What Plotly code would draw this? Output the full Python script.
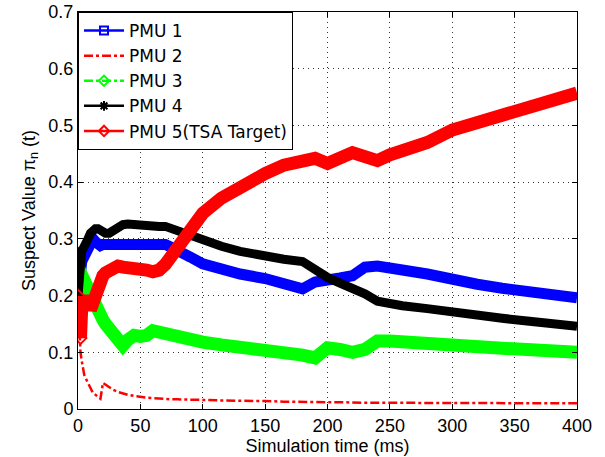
import plotly.graph_objects as go

# time axis (ms)
t = [0, 1, 2, 3, 4, 5, 6, 8, 10, 12, 14, 16, 18, 20, 22, 25, 28, 32, 36, 40,
     45, 50, 55, 60, 65, 70, 75, 80, 90, 100, 115, 130, 150, 165, 180, 190,
     200, 210, 220, 230, 240, 250, 260, 280, 300, 320, 340, 360, 380, 400]

pmu1 = [0.20, 0.25, 0.255, 0.26, 0.265, 0.27, 0.275, 0.29, 0.30, 0.30, 0.295, 0.29, 0.288, 0.29, 0.29, 0.288,
        0.288, 0.29, 0.29, 0.29, 0.29, 0.291, 0.29, 0.29, 0.292, 0.29, 0.285, 0.278, 0.268, 0.256,
        0.246, 0.238, 0.23, 0.222, 0.212, 0.224, 0.23, 0.231, 0.235, 0.25, 0.252, 0.25, 0.245,
        0.238, 0.228, 0.22, 0.213, 0.206, 0.2, 0.196]

pmu2 = [0.20, 0.13, 0.10, 0.085, 0.07, 0.06, 0.055, 0.045, 0.035, 0.028, 0.025, 0.022, 0.018, 0.046,
        0.043, 0.038, 0.034, 0.030, 0.027, 0.025, 0.023, 0.021, 0.020, 0.019, 0.018, 0.018, 0.017,
        0.017, 0.016, 0.016, 0.015, 0.015, 0.014, 0.013, 0.012, 0.012, 0.012, 0.012, 0.011, 0.011,
        0.011, 0.011, 0.011, 0.011, 0.011, 0.010, 0.010, 0.010, 0.010, 0.010]

pmu3 = [0.25, 0.245, 0.24, 0.23, 0.225, 0.22, 0.215, 0.205, 0.20, 0.19, 0.18, 0.17, 0.163, 0.157, 0.15,
        0.142, 0.132, 0.12, 0.112, 0.122, 0.13, 0.128, 0.13, 0.138, 0.135, 0.132, 0.13, 0.127, 0.123,
        0.118, 0.113, 0.11, 0.105, 0.10, 0.095, 0.09, 0.108, 0.105, 0.10, 0.105, 0.12, 0.12, 0.118,
        0.114, 0.11, 0.108, 0.107, 0.105, 0.103, 0.10]

pmu4 = [0.20, 0.26, 0.275, 0.28, 0.282, 0.285, 0.29, 0.30, 0.31, 0.318, 0.318, 0.318, 0.315, 0.312, 0.31,
        0.31, 0.315, 0.32, 0.325, 0.326, 0.325, 0.324, 0.322, 0.32, 0.322, 0.322, 0.318, 0.312, 0.305,
        0.298, 0.287, 0.278, 0.268, 0.264, 0.26, 0.245, 0.232, 0.222, 0.213, 0.203, 0.19, 0.185, 0.182,
        0.177, 0.17, 0.165, 0.16, 0.155, 0.15, 0.146]

pmu5 = [0.20, 0.13, 0.125, 0.18, 0.20, 0.19, 0.175, 0.20, 0.175, 0.19, 0.205, 0.215, 0.225, 0.235, 0.24,
        0.245, 0.25, 0.252, 0.25, 0.25, 0.245, 0.25, 0.245, 0.242, 0.245, 0.255, 0.27, 0.29, 0.32,
        0.345, 0.372, 0.392, 0.415, 0.43, 0.44, 0.442, 0.433, 0.445, 0.452, 0.445, 0.438, 0.448, 0.455,
        0.47, 0.492, 0.505, 0.52, 0.535, 0.548, 0.557]

names = ["PMU 1", "PMU 2", "PMU 3", "PMU 4", "PMU 5(TSA Target)"]
colors = ["#0000ff", "#ff0000", "#00ff00", "#000000", "#ff0000"]
series = [pmu1, pmu2, pmu3, pmu4, pmu5]
widths = [11, 2.5, 13, 9, 13]
dashes = ["solid", "dashdot", "solid", "solid", "solid"]
leg_dash = ["solid", "dashdot", "dashdot", "solid", "solid"]
leg_sym = ["square-open", None, "diamond-open", "asterisk-open", "diamond-open"]

fig = go.Figure()
for name, c, y, w, d in zip(names, colors, series, widths, dashes):
    fig.add_trace(go.Scatter(x=t, y=y, mode="lines", showlegend=False,
                             line=dict(color=c, width=w, dash=d)))
# start markers (visible at t ~ 0)
fig.add_trace(go.Scatter(x=[0, 2], y=[pmu5[0], pmu5[2]], mode="markers", showlegend=False,
                         marker=dict(symbol="diamond-open", size=9, color="#ff0000", line=dict(width=2))))

for name, c, d, s in zip(names, colors, leg_dash, leg_sym):
    fig.add_trace(go.Scatter(x=[None], y=[None], name=name,
                             mode="lines+markers" if s else "lines",
                             line=dict(color=c, width=2.5, dash=d),
                             marker=dict(symbol=s or "circle", size=8, color=c, line=dict(width=2, color=c))))

axis_common = dict(showline=True, linecolor="black", linewidth=1, mirror="allticks",
                   ticks="inside", ticklen=5, tickcolor="black", automargin=False,
                   showgrid=True, gridcolor="#333333", gridwidth=1, griddash="1px,4px",
                   zeroline=False, tickfont=dict(size=18, color="black"))

fig.update_xaxes(range=[0, 400], dtick=50, tick0=0,
                 title=dict(text="Simulation time (ms)", font=dict(size=18, color="black"), standoff=0),
                 **axis_common)
fig.update_yaxes(range=[0, 0.7], dtick=0.1, tick0=0,
                 title=dict(text="Suspect Value π<sub>n</sub> (t)", font=dict(size=18, color="black"), standoff=8),
                 **axis_common)

fig.update_layout(
    width=605, height=457,
    margin=dict(l=78, r=28, t=12, b=48),
    paper_bgcolor="white", plot_bgcolor="white",
    font=dict(family="Liberation Sans, Arial, Helvetica", size=18, color="black"),
    legend=dict(x=0, y=1, xanchor="left", yanchor="top", bgcolor="white",
                bordercolor="black", borderwidth=1,
                font=dict(size=17, family="DejaVu Sans"),
                tracegroupgap=0, itemwidth=40),
)

fig.write_html("out.html")
